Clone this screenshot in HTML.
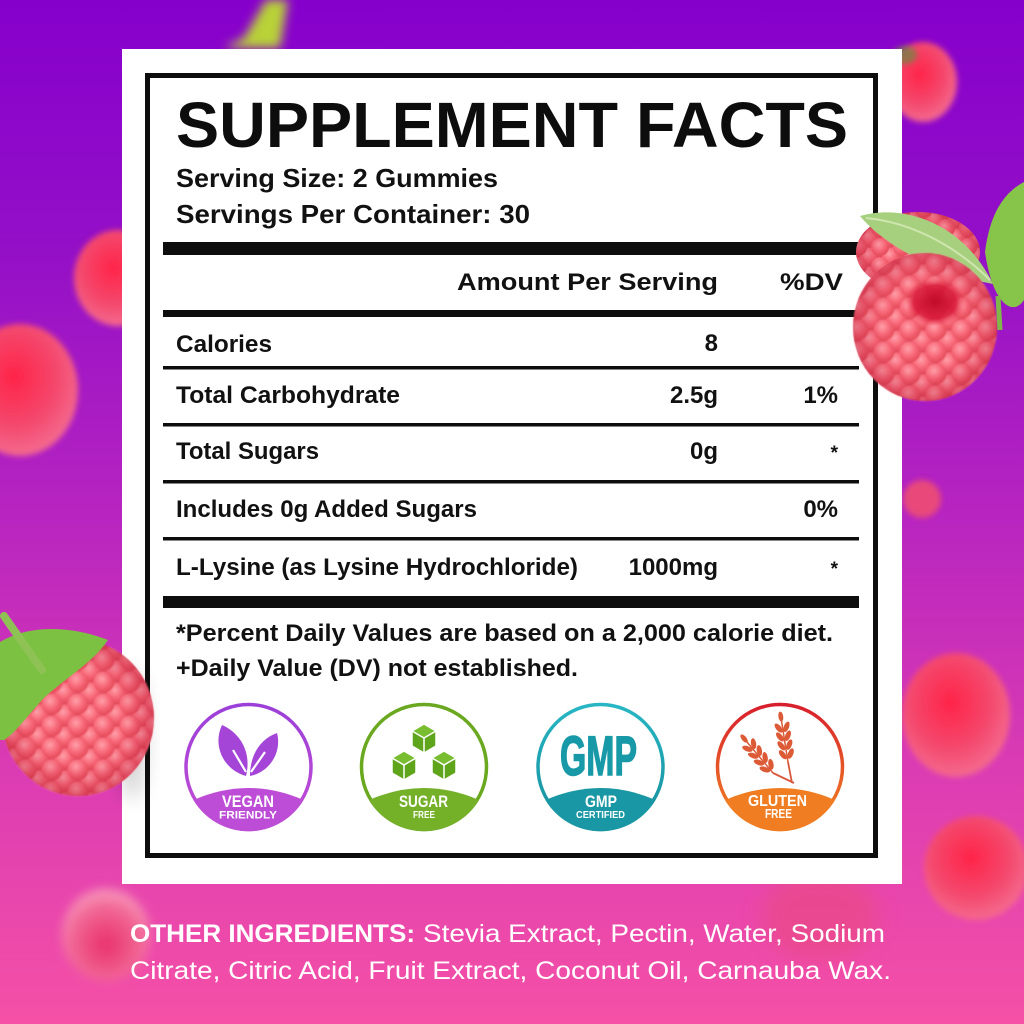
<!DOCTYPE html>
<html><head><meta charset="utf-8"><style>
html,body{margin:0;padding:0;width:1024px;height:1024px;overflow:hidden;}
svg{display:block;}
text{font-family:"Liberation Sans",sans-serif;}
</style></head><body>
<svg xmlns="http://www.w3.org/2000/svg" width="1024" height="1024" viewBox="0 0 1024 1024">
<defs>
<linearGradient id="bg" x1="0" y1="0" x2="0" y2="1">
<stop offset="0" stop-color="#8600cc"/>
<stop offset="0.25" stop-color="#9410c7"/>
<stop offset="0.5" stop-color="#b724c0"/>
<stop offset="0.75" stop-color="#db3cb3"/>
<stop offset="1" stop-color="#f550a6"/>
</linearGradient>
<filter id="b3" x="-50%" y="-50%" width="200%" height="200%"><feGaussianBlur stdDeviation="3"/></filter>
<filter id="b5" x="-50%" y="-50%" width="200%" height="200%"><feGaussianBlur stdDeviation="5"/></filter>
<filter id="b10" x="-50%" y="-50%" width="200%" height="200%"><feGaussianBlur stdDeviation="10"/></filter>
<filter id="b1" x="-10%" y="-10%" width="120%" height="120%"><feGaussianBlur stdDeviation="0.8"/></filter>
<radialGradient id="rb" cx="0.45" cy="0.4" r="0.6">
<stop offset="0" stop-color="#ff2448"/>
<stop offset="0.6" stop-color="#f4476c"/>
<stop offset="1" stop-color="#f46a8e"/>
</radialGradient>
<radialGradient id="rbp" cx="0.5" cy="0.6" r="0.6">
<stop offset="0" stop-color="#e8306a"/>
<stop offset="0.7" stop-color="#f26a98"/>
<stop offset="1" stop-color="#f8a0c0"/>
</radialGradient>
<radialGradient id="dg" cx="0.4" cy="0.35" r="0.6">
<stop offset="0" stop-color="#ffa0aa"/>
<stop offset="0.6" stop-color="#f86a7a"/>
<stop offset="1" stop-color="#e8505f"/>
</radialGradient>
<pattern id="dr" width="22" height="19" patternUnits="userSpaceOnUse">
<rect width="22" height="19" fill="#e24c5e"/>
<circle cx="11" cy="9.5" r="9" fill="url(#dg)"/>
<circle cx="0" cy="0" r="9" fill="url(#dg)"/>
<circle cx="22" cy="0" r="9" fill="url(#dg)"/>
<circle cx="0" cy="19" r="9" fill="url(#dg)"/>
<circle cx="22" cy="19" r="9" fill="url(#dg)"/>
</pattern>
<pattern id="dr2" width="26" height="22" patternUnits="userSpaceOnUse">
<rect width="26" height="22" fill="#e04c5e"/>
<circle cx="13" cy="11" r="10.5" fill="url(#dg)"/>
<circle cx="0" cy="0" r="10.5" fill="url(#dg)"/>
<circle cx="26" cy="0" r="10.5" fill="url(#dg)"/>
<circle cx="0" cy="22" r="10.5" fill="url(#dg)"/>
<circle cx="26" cy="22" r="10.5" fill="url(#dg)"/>
</pattern>
<radialGradient id="shade" cx="0.5" cy="0.5" r="0.5">
<stop offset="0.6" stop-color="#c01838" stop-opacity="0"/>
<stop offset="1" stop-color="#b01030" stop-opacity="0.35"/>
</radialGradient>
<radialGradient id="hole" cx="0.5" cy="0.5" r="0.5">
<stop offset="0" stop-color="#c00a28"/>
<stop offset="0.7" stop-color="#d81838" stop-opacity="0.85"/>
<stop offset="1" stop-color="#e83850" stop-opacity="0"/>
</radialGradient>
<linearGradient id="glut" x1="0" y1="0" x2="0" y2="1">
<stop offset="0" stop-color="#d81f2d"/>
<stop offset="1" stop-color="#f28a22"/>
</linearGradient>
<linearGradient id="gmpg" x1="0" y1="0" x2="0" y2="1">
<stop offset="0" stop-color="#28b6c4"/>
<stop offset="1" stop-color="#158d9a"/>
</linearGradient>
<linearGradient id="vegg" x1="0" y1="0" x2="0" y2="1">
<stop offset="0" stop-color="#9b3fd8"/>
<stop offset="1" stop-color="#c54dd4"/>
</linearGradient>
</defs>

<rect width="1024" height="1024" fill="url(#bg)"/>

<!-- background blurred raspberries -->
<path d="M224 48 L244 38 L266 0 L288 0 L280 48 Z" fill="#b8d238" filter="url(#b5)"/>
<ellipse cx="118" cy="278" rx="44" ry="48" fill="url(#rb)" filter="url(#b3)"/>
<ellipse cx="20" cy="390" rx="58" ry="66" fill="url(#rb)" filter="url(#b3)"/>
<ellipse cx="923" cy="82" rx="34" ry="40" fill="url(#rb)" filter="url(#b3)"/>
<ellipse cx="905" cy="55" rx="12" ry="9" fill="#6a8a40" opacity="0.7" filter="url(#b3)"/>
<ellipse cx="922" cy="499" rx="19" ry="19" fill="#e8487a" filter="url(#b3)"/>
<ellipse cx="956" cy="715" rx="54" ry="62" fill="url(#rb)" filter="url(#b3)"/>
<ellipse cx="976" cy="868" rx="52" ry="52" fill="url(#rb)" filter="url(#b3)"/>
<ellipse cx="106" cy="935" rx="44" ry="46" fill="url(#rbp)" filter="url(#b5)"/>
<ellipse cx="820" cy="915" rx="58" ry="45" fill="#ea4a8a" opacity="0.8" filter="url(#b10)"/>

<!-- card -->
<rect x="122" y="49" width="780" height="835" fill="#ffffff"/>
<ellipse cx="132" cy="735" rx="14" ry="65" fill="#000" opacity="0.18" filter="url(#b10)"/>
<rect x="147.5" y="75.5" width="728" height="780" fill="none" stroke="#0d0d0d" stroke-width="5"/>

<!-- title -->
<text x="176" y="147" font-size="64" font-weight="bold" fill="#0d0d0d" textLength="672" lengthAdjust="spacingAndGlyphs">SUPPLEMENT FACTS</text>
<text x="176" y="187" font-size="26" font-weight="bold" fill="#111" textLength="322" lengthAdjust="spacingAndGlyphs">Serving Size: 2 Gummies</text>
<text x="176" y="223" font-size="26" font-weight="bold" fill="#111" textLength="354" lengthAdjust="spacingAndGlyphs">Servings Per Container: 30</text>

<!-- bars -->
<rect x="163" y="242" width="696" height="13" fill="#0d0d0d"/>
<rect x="163" y="310" width="696" height="7" fill="#0d0d0d"/>
<rect x="163" y="366" width="696" height="3.5" fill="#0d0d0d"/>
<rect x="163" y="423" width="696" height="3.5" fill="#0d0d0d"/>
<rect x="163" y="480" width="696" height="3.5" fill="#0d0d0d"/>
<rect x="163" y="537" width="696" height="3.5" fill="#0d0d0d"/>
<rect x="163" y="596" width="696" height="12" fill="#0d0d0d"/>

<text x="457" y="290" font-size="24" font-weight="bold" fill="#111" textLength="261" lengthAdjust="spacingAndGlyphs">Amount Per Serving</text>
<text x="780" y="290" font-size="24" font-weight="bold" fill="#111" textLength="63" lengthAdjust="spacingAndGlyphs">%DV</text>

<g font-size="24" font-weight="bold" fill="#111">
<text x="176" y="352" textLength="96" lengthAdjust="spacingAndGlyphs">Calories</text>
<text x="176" y="403" textLength="224" lengthAdjust="spacingAndGlyphs">Total Carbohydrate</text>
<text x="176" y="459" textLength="143" lengthAdjust="spacingAndGlyphs">Total Sugars</text>
<text x="176" y="517" textLength="301" lengthAdjust="spacingAndGlyphs">Includes 0g Added Sugars</text>
<text x="176" y="575" textLength="402" lengthAdjust="spacingAndGlyphs">L-Lysine (as Lysine Hydrochloride)</text>
<text x="718" y="351" text-anchor="end">8</text>
<text x="718" y="403" text-anchor="end">2.5g</text>
<text x="718" y="459" text-anchor="end">0g</text>
<text x="718" y="575" text-anchor="end">1000mg</text>
<text x="838" y="403" text-anchor="end">1%</text>
<text x="838" y="517" text-anchor="end">0%</text>
<text x="838" y="459" text-anchor="end" font-size="19">*</text>
<text x="838" y="575" text-anchor="end" font-size="19">*</text>
<text x="176" y="641" textLength="657" lengthAdjust="spacingAndGlyphs">*Percent Daily Values are based on a 2,000 calorie diet.</text>
<text x="176" y="676" textLength="402" lengthAdjust="spacingAndGlyphs">+Daily Value (DV) not established.</text>
</g>

<!-- badge: vegan -->
<circle cx="248.5" cy="767" r="62.5" fill="#fff" stroke="url(#vegg)" stroke-width="3.5"/>
<path d="M193.5 800 Q248.5 776 303.5 800 A64 64 0 0 1 193.5 800 Z" fill="#bd4cd6"/>
<path d="M246 776 C224 770 212 746 222 725 C240 733 252 752 246 776 Z" fill="#a445d8"/>
<path d="M250 776 C250 755 260 739 277 733 C282 752 270 772 250 776 Z" fill="#a445d8"/>
<path d="M246 772 L233 750" stroke="#fff" stroke-width="2.2" fill="none"/>
<path d="M251 772 L265 752" stroke="#fff" stroke-width="2.2" fill="none"/>
<g font-weight="bold" fill="#fff">
<text x="222" y="807" font-size="16.5" textLength="52" lengthAdjust="spacingAndGlyphs">VEGAN</text>
<text x="219" y="818.5" font-size="11" textLength="58" lengthAdjust="spacingAndGlyphs">FRIENDLY</text>
</g>

<!-- badge: sugar -->
<circle cx="424" cy="767" r="62.5" fill="#fff" stroke="#6aa820" stroke-width="3.5"/>
<path d="M369 800 Q424 776 479 800 A64 64 0 0 1 369 800 Z" fill="#74b028"/>
<g fill="#5fa51c" stroke="#fff" stroke-width="1.5" stroke-linejoin="round">
<path d="M424 724 L436 731 L436 746 L424 753 L412 746 L412 731 Z"/>
<path d="M424 724 L436 731 L424 738 L412 731 Z" fill="#79bd30"/>
<path d="M424 738 L424 753"/>
<path d="M404 751 L416 758 L416 773 L404 780 L392 773 L392 758 Z"/>
<path d="M404 751 L416 758 L404 765 L392 758 Z" fill="#79bd30"/>
<path d="M404 765 L404 780"/>
<path d="M444 751 L456 758 L456 773 L444 780 L432 773 L432 758 Z"/>
<path d="M444 751 L456 758 L444 765 L432 758 Z" fill="#79bd30"/>
<path d="M444 765 L444 780"/>
</g>
<g font-weight="bold" fill="#fff">
<text x="399" y="807" font-size="16.5" textLength="49" lengthAdjust="spacingAndGlyphs">SUGAR</text>
<text x="413" y="818" font-size="10.5" textLength="22" lengthAdjust="spacingAndGlyphs">FREE</text>
</g>

<!-- badge: gmp -->
<circle cx="600.5" cy="767" r="62.5" fill="#fff" stroke="url(#gmpg)" stroke-width="3.5"/>
<path d="M545.5 800 Q600.5 776 655.5 800 A64 64 0 0 1 545.5 800 Z" fill="#1a97a4"/>
<text x="560" y="775" font-size="56" font-weight="bold" fill="#1899a7" stroke="#1899a7" stroke-width="1.5" textLength="77" lengthAdjust="spacingAndGlyphs">GMP</text>
<g font-weight="bold" fill="#fff">
<text x="585" y="807" font-size="16.5" textLength="32" lengthAdjust="spacingAndGlyphs">GMP</text>
<text x="576" y="818" font-size="10.5" textLength="49" lengthAdjust="spacingAndGlyphs">CERTIFIED</text>
</g>

<!-- badge: gluten -->
<circle cx="780" cy="767" r="62.5" fill="#fff" stroke="url(#glut)" stroke-width="3.5"/>
<path d="M725 800 Q780 776 835 800 A64 64 0 0 1 725 800 Z" fill="#f07d22"/>
<g stroke="#d9573a" stroke-width="1.8" fill="none">
<path d="M773 773 L794 783"/>
<path d="M788 762 L792 783"/>
</g>
<g transform="translate(773,773) rotate(-40)" fill="#dc5a36">
<line x1="0" y1="0" x2="0" y2="-46" stroke="#dc5a36" stroke-width="1.5"/>
<ellipse cx="-4" cy="-8" rx="2.6" ry="5.5" transform="rotate(-30 -4 -8)"/>
<ellipse cx="4" cy="-8" rx="2.6" ry="5.5" transform="rotate(30 4 -8)"/>
<ellipse cx="-4" cy="-17" rx="2.6" ry="5.5" transform="rotate(-30 -4 -17)"/>
<ellipse cx="4" cy="-17" rx="2.6" ry="5.5" transform="rotate(30 4 -17)"/>
<ellipse cx="-4" cy="-26" rx="2.6" ry="5.5" transform="rotate(-30 -4 -26)"/>
<ellipse cx="4" cy="-26" rx="2.6" ry="5.5" transform="rotate(30 4 -26)"/>
<ellipse cx="-4" cy="-35" rx="2.6" ry="5.5" transform="rotate(-30 -4 -35)"/>
<ellipse cx="4" cy="-35" rx="2.6" ry="5.5" transform="rotate(30 4 -35)"/>
<ellipse cx="0" cy="-45" rx="2.4" ry="5"/>
</g>
<g transform="translate(788,762) rotate(-9)" fill="#dc5a36">
<line x1="0" y1="0" x2="0" y2="-48" stroke="#dc5a36" stroke-width="1.5"/>
<ellipse cx="-4" cy="-8" rx="2.6" ry="5.5" transform="rotate(-30 -4 -8)"/>
<ellipse cx="4" cy="-8" rx="2.6" ry="5.5" transform="rotate(30 4 -8)"/>
<ellipse cx="-4" cy="-17" rx="2.6" ry="5.5" transform="rotate(-30 -4 -17)"/>
<ellipse cx="4" cy="-17" rx="2.6" ry="5.5" transform="rotate(30 4 -17)"/>
<ellipse cx="-4" cy="-26" rx="2.6" ry="5.5" transform="rotate(-30 -4 -26)"/>
<ellipse cx="4" cy="-26" rx="2.6" ry="5.5" transform="rotate(30 4 -26)"/>
<ellipse cx="-4" cy="-35" rx="2.6" ry="5.5" transform="rotate(-30 -4 -35)"/>
<ellipse cx="4" cy="-35" rx="2.6" ry="5.5" transform="rotate(30 4 -35)"/>
<ellipse cx="0" cy="-46" rx="2.4" ry="5"/>
</g>
<g font-weight="bold" fill="#fff">
<text x="748" y="806" font-size="16" textLength="59" lengthAdjust="spacingAndGlyphs">GLUTEN</text>
<text x="765" y="818" font-size="12.5" textLength="27" lengthAdjust="spacingAndGlyphs">FREE</text>
</g>

<!-- foreground raspberry right -->
<ellipse cx="918" cy="252" rx="62" ry="40" fill="url(#dr)"/>
<ellipse cx="918" cy="252" rx="62" ry="40" fill="url(#shade)"/>
<path d="M860 216 C900 204 962 220 993 284 C950 276 890 252 860 216 Z" fill="#a6d07e"/>
<path d="M866 218 C910 222 955 245 990 280" stroke="#cfe6b0" stroke-width="2" fill="none"/>
<ellipse cx="925" cy="327" rx="72" ry="74" fill="url(#dr2)" filter="url(#b1)"/>
<ellipse cx="925" cy="327" rx="72" ry="74" fill="url(#shade)"/>
<ellipse cx="935" cy="302" rx="30" ry="24" fill="url(#hole)"/>
<path d="M985 252 C990 212 1005 192 1024 182 L1024 300 C1012 318 992 302 985 252 Z" fill="#86c44a"/>
<path d="M998 296 L1000 330" stroke="#7fb848" stroke-width="5"/>

<!-- foreground raspberry left -->
<ellipse cx="78" cy="718" rx="76" ry="78" fill="url(#dr2)" filter="url(#b1)"/>
<ellipse cx="78" cy="718" rx="76" ry="78" fill="url(#shade)"/>
<path d="M0 642 C30 624 72 626 108 640 C92 664 62 680 42 700 C26 718 14 734 4 740 L0 740 Z" fill="#7cc142"/>
<path d="M4 616 L42 670" stroke="#8fc255" stroke-width="8" stroke-linecap="round"/>

<!-- other ingredients -->
<text x="130" y="942" font-size="25" font-weight="bold" fill="#fff" textLength="285" lengthAdjust="spacingAndGlyphs">OTHER INGREDIENTS:</text>
<text x="423" y="942" font-size="25" fill="#fff" textLength="462" lengthAdjust="spacingAndGlyphs">Stevia Extract, Pectin, Water, Sodium</text>
<text x="130" y="979" font-size="25" fill="#fff" textLength="761" lengthAdjust="spacingAndGlyphs">Citrate, Citric Acid, Fruit Extract, Coconut Oil, Carnauba Wax.</text>
</svg>
</body></html>
